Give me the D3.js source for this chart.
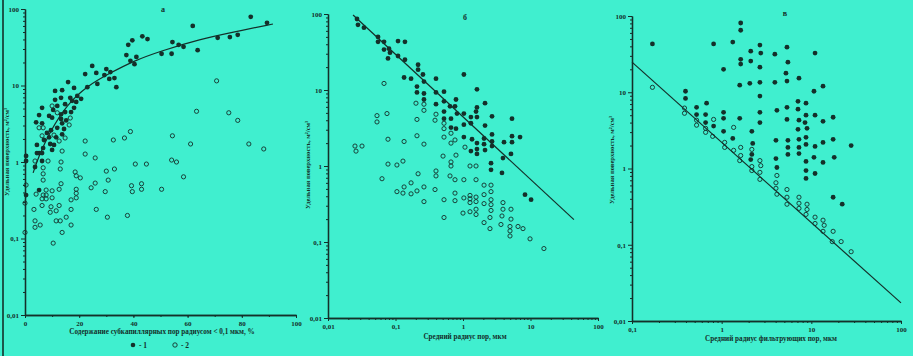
<!DOCTYPE html>
<html><head><meta charset="utf-8">
<script src="https://cdn.jsdelivr.net/npm/d3@7"></script>
<style>
html,body{margin:0;padding:0;background:#40efcf;}
svg{display:block;}
text{font-family:"Liberation Serif","DejaVu Serif",serif;fill:#14302a;}
</style></head>
<body>
<svg id="chart" width="913" height="356"></svg>
<script>
// ---------- DATA ----------
const yTicks = [0.01, 0.1, 1, 10, 100];
const aXTicks = [0, 20, 40, 60, 80, 100];
const bXTicks = [0.01, 0.1, 1, 10, 100];
const cXTicks = [0.1, 1, 10, 100];
const panelTitles = ["а", "б", "в"];
const yLabel = "Удельная поверхность, м²/см³";
const xLabels = ["Содержание субкапиллярных пор радиусом < 0,1 мкм, %", "Средний радиус пор, мкм", "Средний радиус фильтрующих пор, мкм"];
const legendLabels = ["- 1", "- 2"];

const aFilled = [[83.3,79],[89.3,66],[61.9,60],[43.3,44],[45.2,40.5],[39.6,39],[38.1,34],[54.4,37],[56.7,34],[58.5,32],[63.7,29],[71.1,42],[75.6,43],[78.5,46],[50.4,26],[54.1,26],[37.4,25],[41.1,23.6],[38.9,21],[40.4,19],[24.8,18],[22.2,14.1],[26.3,14.6],[30,16.4],[31.5,15],[29.3,13.7],[31.1,12.2],[33,12.5],[26.7,10.5],[33.7,9.5],[23,9.5],[15.9,11.1],[18.1,9.3],[13.7,8.7],[11.1,8.5],[19.3,7.3],[16.7,6.9],[13.3,6.9],[11.1,6.5],[20.7,6.7],[17.4,6.3],[18.9,6.1],[14.8,5.7],[11.9,5.4],[18.1,5.1],[6.3,5.1],[17,4.5],[14.8,4.5],[10.4,4.8],[8.9,4.0],[13.3,4.2],[10,3.8],[5.2,4.1],[4.1,3.3],[6.3,3.2],[13.3,3.65],[15.2,3.5],[13.7,3.2],[11.9,2.8],[14.4,2.7],[9.6,2.6],[8.1,2.4],[13.7,2.3],[11.5,2.1],[8.9,2.1],[7,1.94],[4.4,1.67],[9.3,1.72],[10.7,1.67],[6.7,1.52],[10,1.44],[4.4,1.31],[5.2,1.31],[6.3,1.31],[0.4,1.2],[6.3,1.03],[0.4,1.03],[3.7,0.86],[5.2,0.43],[0.4,0.37]];
const aOpen = [[70.7,11.5],[63.3,4.6],[75.2,4.4],[78.5,3.5],[82.6,1.72],[88.1,1.48],[38.9,2.5],[36.7,2.06],[32.6,1.94],[54.4,2.2],[61.1,1.72],[22.2,1.88],[22.2,1.27],[25.9,1.13],[54.1,1.06],[55.9,1.0],[44.8,0.94],[40.7,0.94],[33,0.81],[30,0.76],[58.5,0.64],[18.5,0.74],[18.9,0.66],[20.4,0.62],[13,0.81],[13.3,1.0],[13.7,1.39],[14.8,2.06],[16.3,3.05],[16.7,3.76],[10,5.4],[11.9,4.4],[5.2,2.8],[6.7,2.8],[6.3,2.2],[8.5,1.03],[3.7,1.03],[6.7,0.84],[6.7,0.70],[10.7,2.25],[12.6,1.88],[6.7,0.58],[0.4,0.50],[13.3,0.52],[12.6,0.44],[7.8,0.43],[10,0.42],[4.1,0.38],[6.7,0.37],[7.8,0.37],[6.3,0.33],[7.8,0.33],[10,0.34],[18.9,0.44],[18.9,0.39],[18.9,0.34],[17,0.32],[24.4,0.46],[25.9,0.53],[29.6,0.41],[30.7,0.58],[39.3,0.49],[39.6,0.41],[43,0.52],[43,0.44],[50.4,0.44],[0,0.29],[6.3,0.27],[9.6,0.26],[12.6,0.27],[3.3,0.24],[9.3,0.22],[11.5,0.23],[17,0.24],[26.3,0.24],[37.8,0.20],[30.4,0.19],[3.7,0.17],[3.7,0.14],[5.6,0.15],[11.5,0.17],[13,0.17],[15.2,0.19],[17,0.15],[13.7,0.12],[0,0.12],[10.4,0.087]];
const aCurve = [[3,0.72],[4.8,1.13],[9.3,2.54],[15.6,5.7],[23,9.9],[31.5,14.6],[40,20.9],[50,28.2],[64.8,40.5],[77,50],[91.5,63.7]];

const bFilled = [[0.0269,86],[0.0278,72],[0.0341,66],[0.0551,50],[0.0551,43],[0.0676,43],[0.0676,34],[0.0801,35],[0.0829,31],[0.0774,26],[0.109,44],[0.138,43],[0.109,28],[0.138,25],[0.216,21.5],[0.216,18.5],[0.255,16],[0.264,12.9],[0.134,14.6],[0.170,14.1],[1.03,16],[0.398,14.1],[0.208,11.1],[0.208,9.3],[0.264,9.0],[0.264,7.5],[0.398,9.3],[0.523,9.5],[0.398,6.5],[0.523,7.1],[0.642,6.1],[0.787,7.5],[0.761,6.1],[1.61,10.2],[0.523,5.2],[0.523,4.2],[0.664,4.2],[0.815,4.9],[1.03,4.9],[1.31,4.4],[1.61,5.9],[1.56,5.2],[1.61,4.4],[2.12,6.7],[2.69,4.5],[0.664,3.2],[0.787,3.1],[1.03,3.5],[1.31,3.65],[2.12,3.4],[1.03,2.4],[1.36,2.25],[1.61,2.0],[1.31,1.57],[1.61,1.67],[1.61,1.44],[2.05,2.3],[2.05,1.94],[2.12,1.62],[2.69,2.6],[2.69,2.1],[2.69,1.83],[4.05,2.06],[3.91,1.27],[5.32,2.47],[5.32,2.06],[5.14,1.44],[5.32,4.2],[7.0,2.4],[2.6,1.09],[2.6,0.89],[3.78,0.81],[8.29,0.42],[10.2,0.36]];
const bOpen = [[0.0676,12.2],[0.0532,4.6],[0.0532,3.8],[0.0748,4.9],[0.201,6.7],[0.264,6.5],[0.264,5.4],[0.208,4.1],[0.398,4.8],[0.385,4.0],[0.523,3.65],[0.523,3.1],[0.523,2.4],[0.664,2.7],[0.761,2.2],[0.664,2.0],[1.07,1.77],[0.208,2.5],[0.264,1.94],[0.134,2.1],[0.0774,2.25],[0.0251,1.83],[0.0319,1.83],[0.026,1.57],[0.506,1.35],[0.787,1.39],[0.664,1.13],[0.664,1.0],[1.27,1.0],[1.56,1.0],[0.0774,1.06],[0.105,1.03],[0.129,1.16],[0.216,0.79],[0.398,0.86],[0.398,0.74],[0.642,0.74],[0.761,0.66],[1.03,0.66],[1.56,0.66],[0.0631,0.68],[0.170,0.60],[0.134,0.53],[0.105,0.46],[0.129,0.44],[0.170,0.43],[0.208,0.47],[0.264,0.53],[0.385,0.49],[0.761,0.44],[2.05,0.56],[2.6,0.56],[2.6,0.46],[2.05,0.42],[1.27,0.41],[1.56,0.39],[1.03,0.38],[1.27,0.37],[1.56,0.34],[1.27,0.33],[0.264,0.34],[0.523,0.36],[0.761,0.35],[2.05,0.32],[2.6,0.36],[2.6,0.31],[2.6,0.26],[3.91,0.33],[3.91,0.27],[5.14,0.27],[1.56,0.27],[1.27,0.25],[1.0,0.24],[1.56,0.23],[0.523,0.21],[2.51,0.21],[3.78,0.22],[5.14,0.20],[2.05,0.18],[3.65,0.17],[4.97,0.16],[6.53,0.16],[7.74,0.15],[2.51,0.15],[4.97,0.14],[4.97,0.12],[9.84,0.11],[15.8,0.082]];
const bLine = [[0.0235,97],[44,0.197]];

const cFilled = [[0.169,43],[1.63,81],[1.63,65],[0.813,43],[1.33,45.5],[1.05,20],[1.63,27],[1.63,23.4],[2.11,34.6],[2.11,25.6],[2.67,41.5],[2.73,32.6],[2.67,21.3],[3.92,31.6],[5.35,39],[5.48,24.8],[5.21,17.8],[5.35,14],[3.92,13.5],[7.28,15.3],[2.67,13.5],[2.06,13.1],[1.59,12.4],[11,32.6],[13.5,12],[10.7,10.3],[0.395,10.3],[0.395,8.3],[0.525,6.35],[0.679,7.2],[0.525,5.1],[0.662,5.1],[0.662,4.0],[0.813,3.6],[1.05,5.45],[1.05,4.55],[1.05,3.07],[1.33,2.48],[1.59,4.55],[2.67,8.9],[2.67,5.45],[2.67,4.0],[2.17,3.07],[2.22,2.13],[2.17,1.53],[2.11,1.31],[4.13,5.8],[5.35,6.35],[5.35,4.4],[7.1,7.6],[7.1,6.0],[8.72,7.2],[7.28,4.3],[8.72,5.0],[8.5,4.0],[11,5.0],[13.5,4.15],[17.5,4.7],[7.1,3.26],[8.95,3.36],[4.03,2.34],[5.48,2.34],[5.48,1.89],[5.48,1.53],[7.28,2.41],[7.28,1.89],[7.28,1.57],[8.72,2.56],[8.72,2.07],[11,1.95],[13.5,2.2],[17.5,2.41],[27.8,2.0],[4.03,1.35],[4.13,1.03],[10.7,1.4],[13.5,1.2],[18,1.4],[8.72,1.24],[8.72,0.94],[11,0.86],[8.72,0.74],[17.5,0.42],[22.1,0.34]];
const cOpen = [[0.169,11.6],[0.385,6.2],[0.385,5.3],[0.525,4.3],[0.525,3.7],[0.662,3.36],[0.662,2.98],[0.813,4.4],[0.793,2.64],[1.36,3.46],[1.08,2.2],[1.08,1.89],[1.36,1.73],[1.63,1.89],[1.63,1.48],[1.59,1.27],[2.17,1.78],[2.17,1.06],[2.17,0.94],[2.67,1.27],[2.73,1.09],[2.67,0.89],[2.67,0.72],[4.13,0.81],[4.03,0.65],[4.03,0.55],[4.13,0.46],[5.35,0.53],[5.35,0.42],[5.35,0.34],[7.28,0.42],[7.28,0.35],[7.28,0.30],[8.95,0.34],[8.95,0.29],[8.72,0.25],[11,0.23],[11,0.19],[13.5,0.21],[13.9,0.18],[13.5,0.15],[17.5,0.15],[17.1,0.11],[21.5,0.11],[27.8,0.081]];
const cLine = [[0.1,24.8],[100,0.0173]];

// ---------- DRAW ----------
const INK = "#14302a";
const svg = d3.select("#chart");
const fmt = v => String(v).replace(".", ",");

// scan edge line
svg.append("line").attr("x1",3).attr("x2",3).attr("y1",0).attr("y2",356)
  .attr("stroke",INK).attr("stroke-width",1.6);

const panels = [
  {title:panelTitles[0], xType:"linear", xDom:[0,100], xRange:[25,296], yRange:[315,9], xTicks:aXTicks,
   minorX:d3.range(0,101,10), filled:aFilled, open:aOpen, line:aCurve, curve:d3.curveBasis,
   xLabel:xLabels[0], xLabelPos:[162,334], yLabelPos:[9,152], titlePos:[163,12]},
  {title:panelTitles[1], xType:"log", xDom:[0.01,100], xRange:[328,598], yRange:[318,14], xTicks:bXTicks,
   filled:bFilled, open:bOpen, line:bLine, curve:d3.curveLinear,
   xLabel:xLabels[1], xLabelPos:[465,339], yLabelPos:[310,165], titlePos:[465,20]},
  {title:panelTitles[2], xType:"log", xDom:[0.1,100], xRange:[632,901], yRange:[321,16], xTicks:cXTicks,
   filled:cFilled, open:cOpen, line:cLine, curve:d3.curveLinear,
   xLabel:xLabels[2], xLabelPos:[771,341], yLabelPos:[614,160], titlePos:[785,16]}
];

function logMinors(dom){
  const out=[];
  for(let e=Math.round(Math.log10(dom[0])); e<Math.round(Math.log10(dom[1])); e++){
    for(let m=2;m<=9;m++) out.push(m*Math.pow(10,e));
  }
  return out;
}

panels.forEach(p=>{
  const x = (p.xType==="linear" ? d3.scaleLinear() : d3.scaleLog()).domain(p.xDom).range(p.xRange);
  const y = d3.scaleLog().domain([0.01,100]).range(p.yRange);
  const g = svg.append("g");

  // y axis
  const yAx = g.append("g").attr("transform",`translate(${p.xRange[0]},0)`)
    .call(d3.axisLeft(y).tickValues(yTicks).tickFormat(fmt).tickSize(4).tickSizeOuter(0).tickPadding(2));
  g.append("g").attr("transform",`translate(${p.xRange[0]},0)`)
    .call(d3.axisLeft(y).tickValues(logMinors([0.01,100])).tickFormat("").tickSize(2).tickSizeOuter(0));
  // x axis
  const xAx = g.append("g").attr("transform",`translate(0,${p.yRange[0]})`)
    .call(d3.axisBottom(x).tickValues(p.xTicks).tickFormat(fmt).tickSize(3).tickSizeOuter(0).tickPadding(3));
  g.append("g").attr("transform",`translate(0,${p.yRange[0]})`)
    .call(d3.axisBottom(x).tickValues(p.minorX || logMinors(p.xDom)).tickFormat("").tickSize(2).tickSizeOuter(0));

  g.selectAll(".domain").attr("stroke",INK).attr("stroke-width",1.3);
  g.selectAll(".tick line").attr("stroke",INK).attr("stroke-width",1);
  g.selectAll(".tick text").attr("font-size",7).attr("font-weight","bold")
    .attr("font-family",'"Liberation Serif",serif').attr("fill",INK);

  // fit line
  const lineGen = d3.line().x(d=>x(d[0])).y(d=>y(d[1])).curve(p.curve);
  g.append("path").datum(p.line).attr("d",lineGen).attr("fill","none")
    .attr("stroke",INK).attr("stroke-width",1.2);

  // open points
  g.selectAll(".op").data(p.open).join("circle")
    .attr("cx",d=>x(d[0])).attr("cy",d=>y(d[1])).attr("r",2.1)
    .attr("fill","none").attr("stroke",INK).attr("stroke-width",0.9);
  // filled points
  g.selectAll(".fp").data(p.filled).join("circle")
    .attr("cx",d=>x(d[0])).attr("cy",d=>y(d[1])).attr("r",2.4)
    .attr("fill",INK);

  // labels
  g.append("text").attr("x",p.xLabelPos[0]).attr("y",p.xLabelPos[1])
    .attr("text-anchor","middle").attr("font-size",7.2).attr("font-weight","bold").text(p.xLabel);
  g.append("text").attr("transform",`translate(${p.yLabelPos[0]},${p.yLabelPos[1]}) rotate(-90)`)
    .attr("text-anchor","middle").attr("font-size",6.6).attr("font-weight","bold").text(yLabel);
  g.append("text").attr("x",p.titlePos[0]).attr("y",p.titlePos[1])
    .attr("text-anchor","middle").attr("font-size",8).attr("font-weight","bold").text(p.title);
});

// legend (panel a)
const lg = svg.append("g");
lg.append("circle").attr("cx",133).attr("cy",345).attr("r",2.3).attr("fill",INK);
lg.append("text").attr("x",139).attr("y",347.5).attr("font-size",7.5).attr("font-weight","bold").text(legendLabels[0]);
lg.append("circle").attr("cx",175).attr("cy",345).attr("r",2.2).attr("fill","none").attr("stroke",INK).attr("stroke-width",0.9);
lg.append("text").attr("x",181).attr("y",347.5).attr("font-size",7.5).attr("font-weight","bold").text(legendLabels[1]);
</script>
</body></html>
